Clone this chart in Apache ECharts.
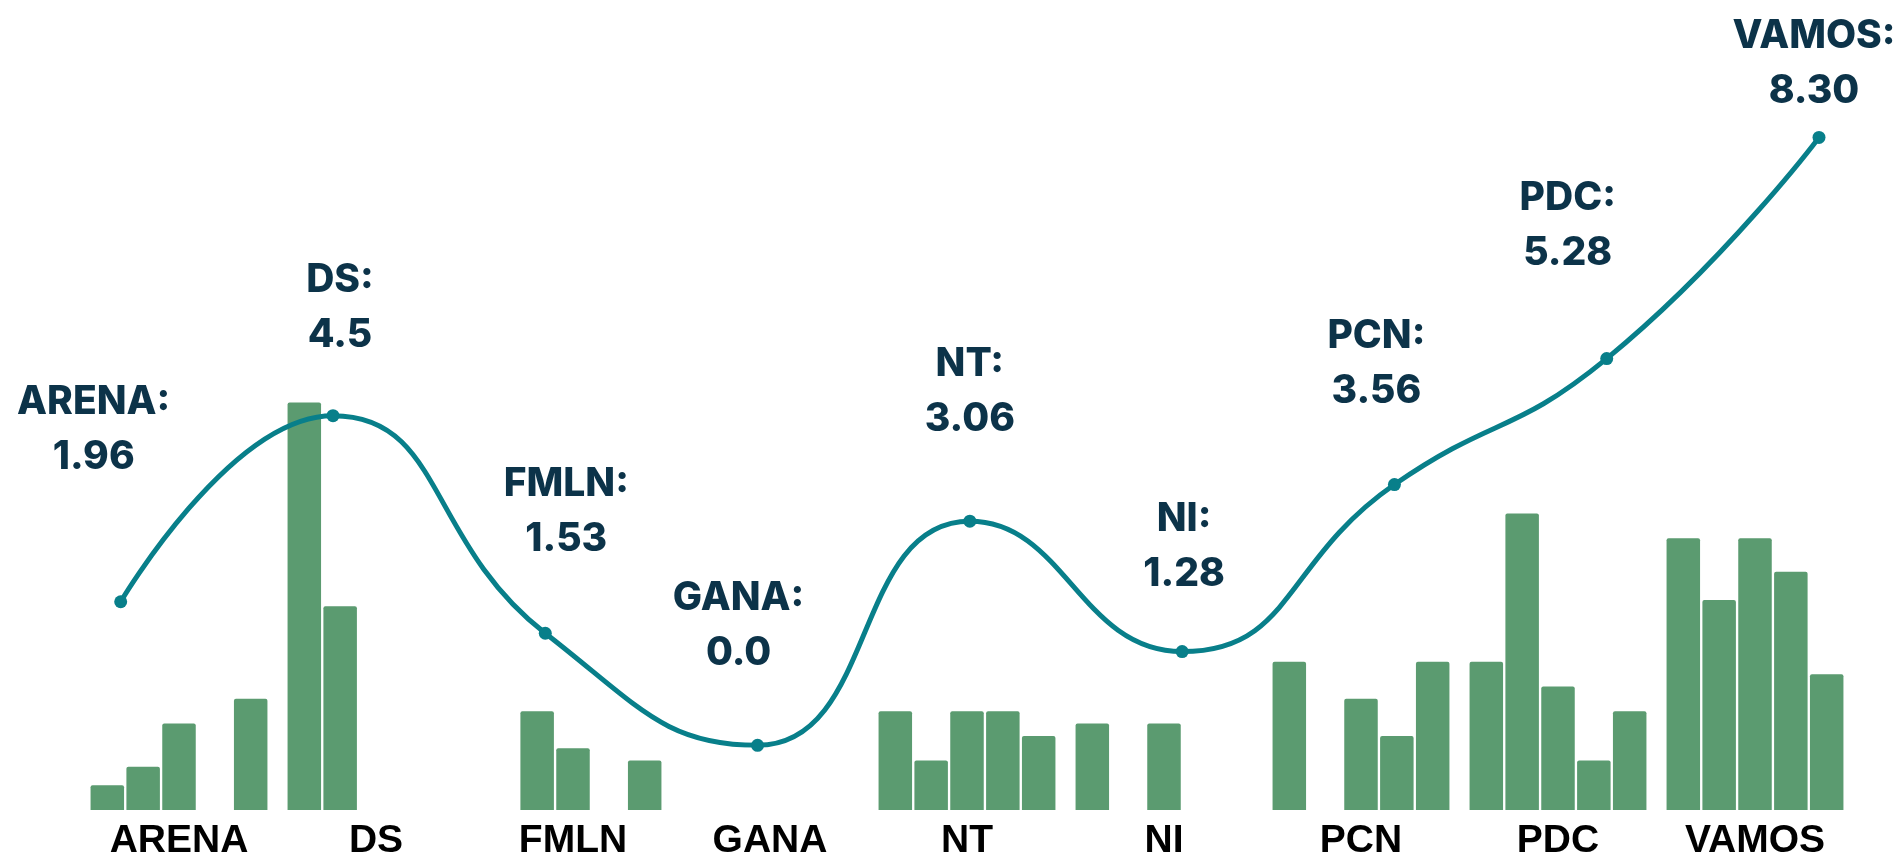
<!DOCTYPE html>
<html>
<head>
<meta charset="utf-8">
<script src="https://cdn.jsdelivr.net/npm/echarts@6/dist/echarts.min.js"></script>
<style>
html,body{margin:0;padding:0;background:#fff;}
#chart{width:1901px;height:861px;}
</style>
</head>
<body>
<div id="chart"></div>
<script>
// ---- data ----
const categories = ['ARENA', 'DS', 'FMLN', 'GANA', 'NT', 'NI', 'PCN', 'PDC', 'VAMOS'];
const lineValues = [1.96, 4.5, 1.53, 0.0, 3.06, 1.28, 3.56, 5.28, 8.30];
const lineValueText = ['1.96', '4.5', '1.53', '0.0', '3.06', '1.28', '3.56', '5.28', '8.30'];
const bars1 = [2, 33, null, null, 8, 7, 12, 12, 22];
const bars2 = [3.5, 16.5, 8, null, 4, null, null, 24, 17];
const bars3 = [7, null, 5, null, 8, 7, 9, 10, 22];
const bars4 = [null, null, null, null, 8, null, 6, 4, 19.3];
const bars5 = [9, null, 4, null, 6, null, 12, 8, 11];

// label placement tweaks (layout only)
const labelDx = [-27, 7, 21, -19, 0, 2, -18, -39, -5];
const labelDy = [-110, -46, -60, -58, -68, -43, -59, -71, -12];

const barColor = '#5b9b70';
const lineColor = '#087f8a';
const labelColor = '#0c3349';

const barSeries = [bars1, bars2, bars3, bars4, bars5].map(function (arr) {
  return {
    type: 'bar',
    xAxisIndex: 0,
    yAxisIndex: 0,
    data: arr,
    barWidth: 33.5,
    barGap: '7%',
    itemStyle: { color: barColor, borderRadius: [2, 2, 0, 0] },
    emphasis: { disabled: true },
    silent: true
  };
});

const chart = echarts.init(document.getElementById('chart'), null, { renderer: 'canvas' });
chart.setOption({
  backgroundColor: '#ffffff',
  animation: false,
  grid: [
    { left: 80.5, right: 47.5, top: 316, bottom: 51 },
    { left: 120.7, right: 82, top: 12.9, bottom: 115.7 }
  ],
  xAxis: [
    {
      type: 'category', gridIndex: 0, data: categories,
      axisLine: { show: false }, axisTick: { show: false },
      axisLabel: {
        color: '#000', fontFamily: 'Liberation Sans', fontWeight: 'bold',
        fontSize: 39, margin: 12, interval: 0
      }
    },
    {
      type: 'category', gridIndex: 1, data: categories, boundaryGap: false,
      show: false
    }
  ],
  yAxis: [
    { type: 'value', gridIndex: 0, min: 0, max: 40, show: false, splitLine: { show: false } },
    { type: 'value', gridIndex: 1, min: 0, max: 10, show: false, splitLine: { show: false } }
  ],
  series: barSeries.concat([{
    type: 'line',
    xAxisIndex: 1,
    yAxisIndex: 1,
    smooth: true,
    z: 10,
    symbol: 'circle',
    symbolSize: 13,
    lineStyle: { color: lineColor, width: 5 },
    itemStyle: { color: lineColor },
    data: lineValues.map(function (v, i) {
      return {
        value: v,
        label: { offset: [labelDx[i], labelDy[i]] }
      };
    }),
    label: {
      show: true,
      position: 'top',
      distance: 0,
      color: labelColor,
      fontFamily: 'Inter',
      fontWeight: 800,
      fontSize: 39,
      lineHeight: 55,
      align: 'center',
      formatter: function (p) {
        return categories[p.dataIndex] + ':\n' + lineValueText[p.dataIndex];
      }
    },
    emphasis: { disabled: true },
    silent: true
  }])
});
</script>
</body>
</html>
